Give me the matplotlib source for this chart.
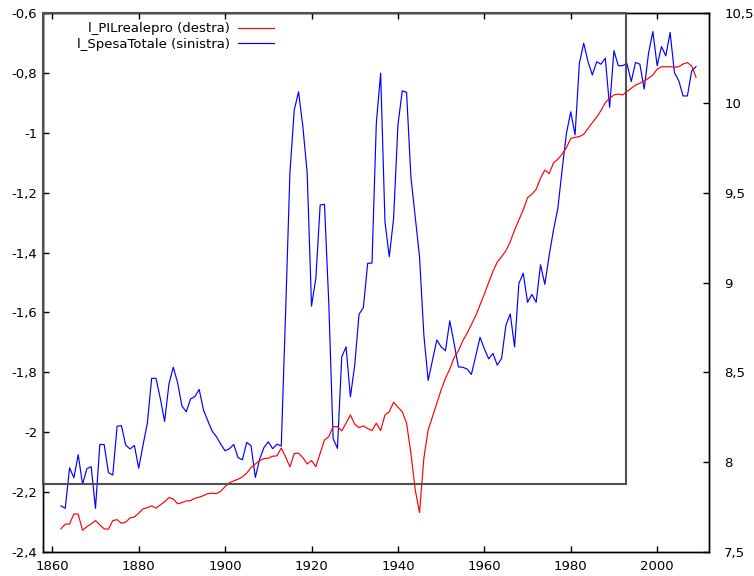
import numpy as np
import matplotlib
matplotlib.use('Agg')
import matplotlib.pyplot as plt
from matplotlib.patches import Rectangle
from matplotlib.ticker import FuncFormatter, MultipleLocator

years = np.arange(1862, 2010)

# l_SpesaTotale, left axis
spesa = [
    -2.246, -2.254, -2.119, -2.152, -2.075, -2.174, -2.122, -2.115,              # 1862-1869
    -2.254, -2.041, -2.041, -2.135, -2.143, -1.980, -1.978, -2.043, -2.056, -2.044,  # 1870s
    -2.120, -2.043, -1.970, -1.820, -1.820, -1.887, -1.964, -1.839, -1.783, -1.834,  # 1880s
    -1.912, -1.932, -1.889, -1.881, -1.857, -1.926, -1.962, -1.996, -2.015, -2.040,  # 1890s
    -2.062, -2.055, -2.041, -2.085, -2.092, -2.034, -2.045, -2.151, -2.090, -2.051,  # 1900s
    -2.032, -2.055, -2.040, -2.046, -1.600, -1.135, -0.924, -0.863, -0.980, -1.135,  # 1910s
    -1.579, -1.486, -1.241, -1.239, -1.570, -2.021, -2.054, -1.748, -1.715, -1.882,  # 1920s
    -1.776, -1.606, -1.584, -1.436, -1.435, -0.968, -0.801, -1.297, -1.414, -1.286,  # 1930s
    -0.974, -0.860, -0.865, -1.147, -1.280, -1.414, -1.675, -1.827, -1.759, -1.692,  # 1940s
    -1.715, -1.728, -1.628, -1.703, -1.782, -1.783, -1.789, -1.807, -1.746, -1.683,  # 1950s
    -1.721, -1.755, -1.737, -1.776, -1.753, -1.642, -1.605, -1.715, -1.503, -1.469,  # 1960s
    -1.566, -1.540, -1.566, -1.441, -1.506, -1.410, -1.325, -1.254, -1.124, -1.002,  # 1970s
    -0.930, -1.007, -0.768, -0.701, -0.763, -0.807, -0.763, -0.771, -0.751, -0.915,  # 1980s
    -0.726, -0.776, -0.776, -0.768, -0.829, -0.765, -0.771, -0.854, -0.735, -0.662,  # 1990s
    -0.776, -0.712, -0.743, -0.665, -0.799, -0.826, -0.877, -0.877, -0.793, -0.779,  # 2000s
]

# l_PILrealepro, right axis
pil = [
    7.629, 7.655, 7.656, 7.712, 7.710, 7.621, 7.641, 7.656,                      # 1862-1869
    7.675, 7.651, 7.629, 7.627, 7.675, 7.680, 7.660, 7.666, 7.690, 7.695,        # 1870s
    7.716, 7.740, 7.747, 7.757, 7.744, 7.762, 7.780, 7.803, 7.795, 7.768,        # 1880s
    7.775, 7.784, 7.786, 7.799, 7.805, 7.814, 7.825, 7.827, 7.825, 7.838,        # 1890s
    7.864, 7.885, 7.896, 7.905, 7.918, 7.939, 7.970, 7.990, 8.009, 8.020,        # 1900s
    8.022, 8.033, 8.035, 8.079, 8.029, 7.974, 8.048, 8.050, 8.025, 7.990,        # 1910s
    8.009, 7.975, 8.050, 8.124, 8.142, 8.198, 8.198, 8.174, 8.217, 8.263,        # 1920s
    8.211, 8.192, 8.202, 8.187, 8.176, 8.217, 8.176, 8.263, 8.281, 8.334,        # 1930s
    8.306, 8.281, 8.217, 8.050, 7.846, 7.719, 8.022, 8.179, 8.254, 8.328,        # 1940s
    8.402, 8.467, 8.518, 8.582, 8.620, 8.675, 8.717, 8.766, 8.815, 8.875,        # 1950s
    8.935, 9.000, 9.062, 9.114, 9.144, 9.177, 9.227, 9.292, 9.348, 9.404,        # 1960s
    9.472, 9.491, 9.519, 9.580, 9.626, 9.606, 9.665, 9.686, 9.715, 9.750,        # 1970s
    9.802, 9.808, 9.812, 9.825, 9.858, 9.890, 9.920, 9.957, 10.001, 10.025,      # 1980s
    10.044, 10.049, 10.044, 10.062, 10.081, 10.099, 10.109, 10.122, 10.137, 10.155,  # 1990s
    10.187, 10.201, 10.201, 10.201, 10.198, 10.201, 10.216, 10.224, 10.205, 10.142,  # 2000s
]

def virgola(v, pos):
    s = ('%.1f' % v).rstrip('0').rstrip('.')
    return s.replace('.', ',')

plt.rcParams['font.family'] = 'DejaVu Sans'
plt.rcParams['font.size'] = 9.5

fig = plt.figure(figsize=(7.54, 5.76), dpi=100)
ax = fig.add_axes([43 / 754, 24 / 576, 666 / 754, 539 / 576])
ax2 = ax.twinx()

l2, = ax2.plot(years, pil, color='#ff0000', lw=0.85, label='l_PILrealepro (destra)')
l1, = ax.plot(years, spesa, color='#0000ff', lw=0.85, label='l_SpesaTotale (sinistra)')

ax.set_xlim(1857.85, 2012)
ax.set_ylim(-2.4, -0.6)
ax2.set_ylim(7.5, 10.5)

ax.xaxis.set_major_locator(MultipleLocator(20))
ax.yaxis.set_major_locator(MultipleLocator(0.2))
ax2.yaxis.set_major_locator(MultipleLocator(0.5))
ax.yaxis.set_major_formatter(FuncFormatter(virgola))
ax2.yaxis.set_major_formatter(FuncFormatter(virgola))

ax.tick_params(axis='x', direction='in', length=4, width=1, top=True, pad=6)
ax.tick_params(axis='y', direction='in', length=4, width=1, pad=4)
ax2.tick_params(axis='y', direction='in', length=4, width=1, pad=11)
for a in (ax, ax2):
    for sp in a.spines.values():
        sp.set_linewidth(1.0)

# gray frame drawn over the series
ax2.add_patch(Rectangle((0, 0.126), 0.8754, 0.874, transform=ax.transAxes,
                        fill=False, edgecolor='#505050', lw=1.5, zorder=5,
                        clip_on=False))

ax2.legend(handles=[l2, l1], loc='upper right', bbox_to_anchor=(0.36, 1.0),
           frameon=False, markerfirst=False, handlelength=2.7,
           handletextpad=0.6, labelspacing=0.2, borderaxespad=0.3)

fig.savefig('out.png', dpi=100)
